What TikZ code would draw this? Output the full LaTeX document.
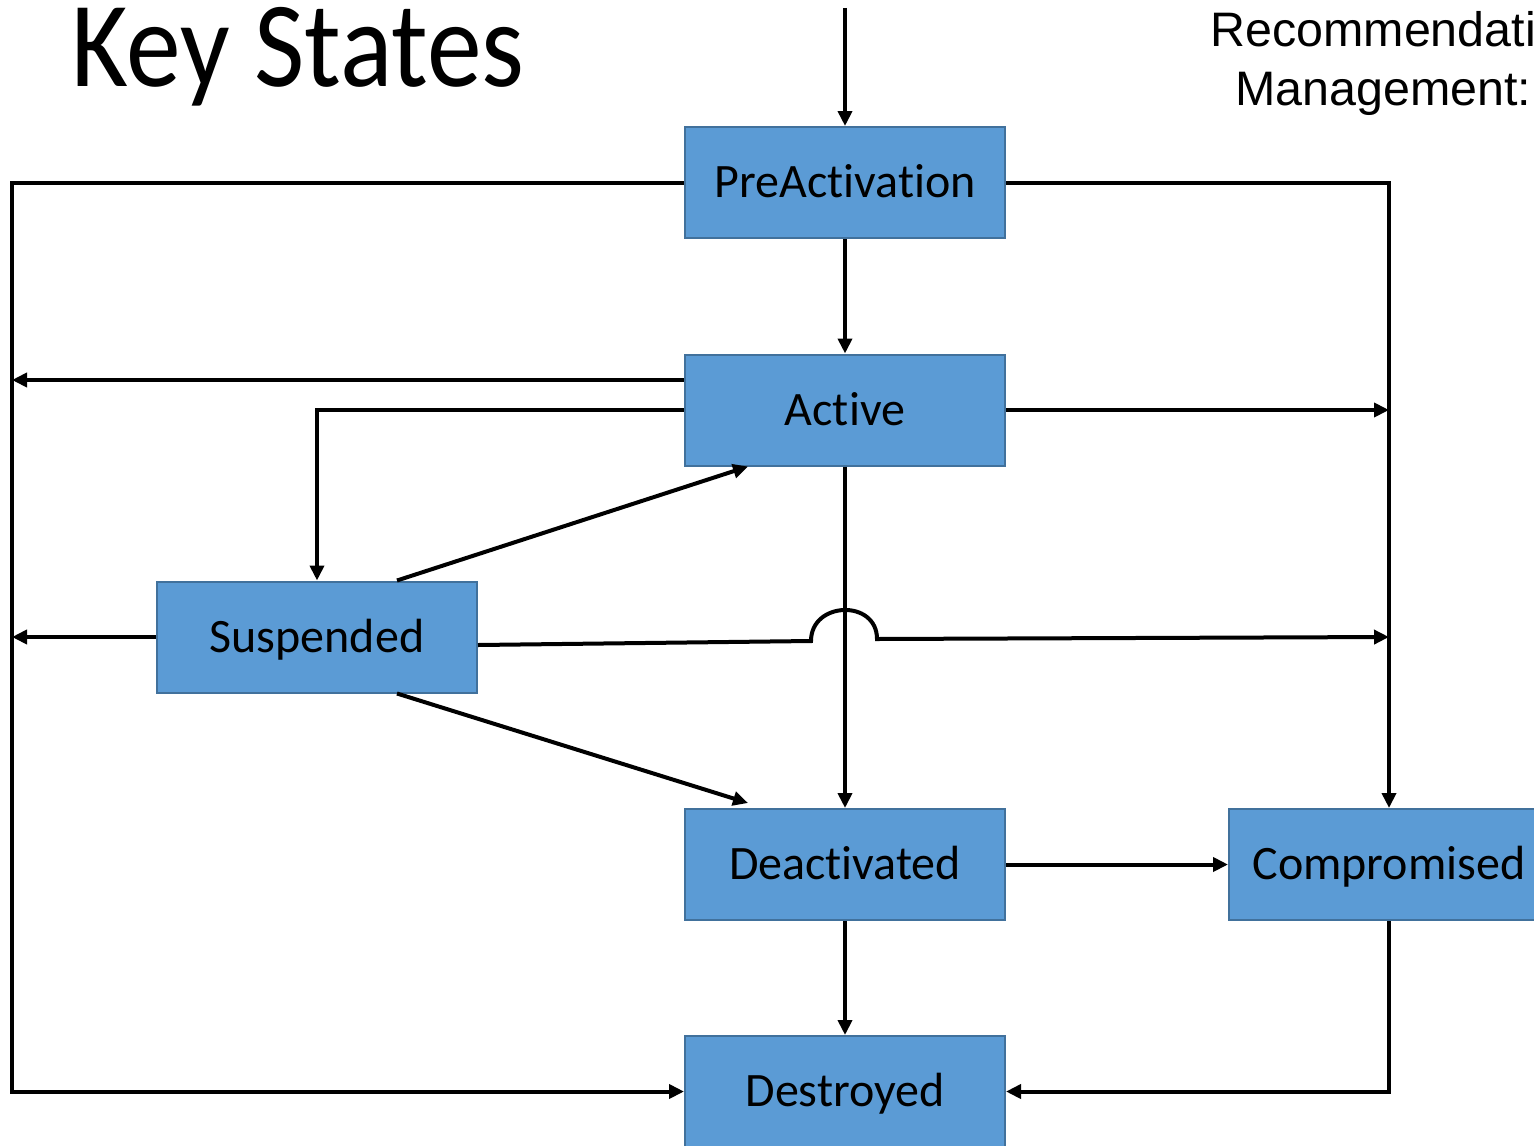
\documentclass[tikz,border=0pt]{standalone}
\usepackage{fontspec}
\usetikzlibrary{arrows.meta,calc}
\newfontfamily\boxfont[Ligatures=NoCommon]{Carlito}
\newfontfamily\titlefont[FakeStretch=0.898,Ligatures=NoCommon]{Carlito}
\newfontfamily\armfont{Liberation Sans}
\definecolor{boxfill}{HTML}{5B9BD5}
\definecolor{boxedge}{HTML}{41719C}
\begin{document}
\begin{tikzpicture}[x=0.5pt,y=-0.5pt,
  state/.style={draw=boxedge, fill=boxfill, line width=1pt, minimum width=160pt,
    minimum height=55.5pt, inner sep=0pt, font=\boxfont\fontsize{24}{28}\selectfont,
    text height=15.4pt, text depth=0pt},
  conn/.style={line width=2pt, draw=black},
  arr/.style={conn, -{Triangle[length=7.5pt,width=7pt]}},
  lbl/.style={anchor=base west, inner sep=0pt}]
\clip (0,0) rectangle (1534,1145);
\fill[white] (0,0) rectangle (1534,1145);

% title and header
\node[lbl, font=\titlefont\fontsize{61}{70}\selectfont] (title) at (71,87) {Key States};
\node[lbl, font=\armfont\fontsize{24.2}{28}\selectfont] (rec) at (1210,47) {Recommendati};
\node[lbl, font=\armfont\fontsize{24.2}{28}\selectfont] (mgmt) at (1235,105) {Management:};

% states
\node[state] (pa) at (845,182.5) {PreActivation};
\node[state] (act) at (845,410) {Active};
\node[state] (sus) at (317,637) {Suspended};
\node[state] (deact) at (845,864.5) {Deactivated};
\node[state] (comp) at (1389,864.5) {Compromised};
\node[state] (des) at (845,1091.5) {Destroyed};

% helper coordinates
\coordinate (start) at (845,8);
\coordinate (L) at (12,0);
\coordinate (a380) at ($(act.west)+(0,-30)$);
\coordinate (h1) at (811,641);
\coordinate (h2) at (877,639);

% connectors
\draw[arr] (start) -- (pa.north);
\draw[arr] (pa.south) -- (act.north);
\draw[arr] (pa.west) -- (pa.west -| L) -- (L |- des.west) -- (des.west);
\draw[arr] (pa.east) -- (pa.east -| comp.north) -- (comp.north);
\draw[arr] (a380) -- (a380 -| L);
\draw[arr] (act.west) -- (act.west -| sus.north) -- (sus.north);
\draw[arr] (act.east) -- (act.east -| comp.north);
\draw[arr] (act.south) -- (deact.north);
\draw[arr] ($(sus.north)+(80,0)$) -- ($(act.south)+(-97,0)$);
\draw[arr] ($(sus.south)+(80,0)$) -- ($(deact.north)+(-97,-5)$);
\draw[arr] (sus.west) -- (sus.west -| L);
\draw[arr] ($(sus.east)+(0,8)$) -- (h1) .. controls ($(h1)+(0,-40)$) and ($(h2)+(0,-40)$) .. (h2) -- (comp.north |- sus.east);
\draw[arr] (deact.east) -- (comp.west);
\draw[arr] (deact.south) -- (des.north);
\draw[arr] (comp.south) -- (comp.south |- des.east) -- (des.east);
\end{tikzpicture}
\end{document}
